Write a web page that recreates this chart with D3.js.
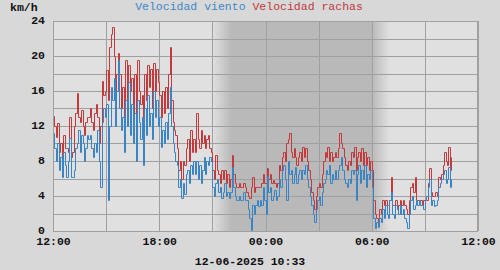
<!DOCTYPE html>
<html><head><meta charset="utf-8">
<script src="https://cdn.jsdelivr.net/npm/d3@7"></script>
<style>
html,body{margin:0;padding:0;background:#d8d8d8;}
svg{display:block;}
text{font-family:"Liberation Mono","DejaVu Sans Mono",monospace;}
</style></head>
<body>
<svg id="chart" width="500" height="270"></svg>
<script>
// ---- data ----
const startTime = new Date(2025, 5, 11, 12, 0);
const endTime = new Date(2025, 5, 12, 12, 0);
const stepMinutes = 5;
const nightStart = new Date(2025, 5, 11, 21, 0);
const nightFull = new Date(2025, 5, 11, 22, 5);
const dawnStart = new Date(2025, 5, 12, 6, 0);
const dawnEnd = new Date(2025, 5, 12, 7, 0);
const yTicks = [0, 4, 8, 12, 16, 20, 24];
const xTickLabels = ["12:00", "18:00", "00:00", "06:00", "12:00"];
const seriesNames = ["Velocidad viento", "Velocidad rachas"];
const unitLabel = "km/h";
const footerLabel = "12-06-2025 10:33";

const viento = [
 11.2, 9.5, 8.0,10.0, 7.0, 8.5, 6.2, 9.0, 7.5, 6.2, 8.0,10.6,
  6.2, 6.2, 7.0, 9.5,10.0,11.5, 9.0,11.0,10.0, 8.0, 9.5,11.0,
 10.5,11.0, 9.5, 8.5,10.0, 9.0,11.5, 8.0, 5.0,12.5,14.0,13.0,
 14.5, 3.5,12.0,16.5,15.0,17.5,12.0,16.0,19.5,14.0,11.5,13.0,
  9.0,15.0,12.0,17.0,11.0,14.5,10.0,13.5, 8.0,15.0,12.5,10.5,
 13.0, 7.5,14.0,11.0,15.5,12.0,13.5,10.5,16.0,13.0,15.0,12.0,
 13.0, 9.6,11.5,10.0,12.5,10.5,13.5,16.5,12.0,10.0, 9.0, 8.0,
  7.5, 5.0, 6.0, 3.8, 5.5, 4.2, 6.5, 7.0, 5.5, 7.5, 6.5, 8.0,
  6.5, 8.0, 6.0, 7.5, 5.5, 7.0, 8.5, 6.5, 8.0, 7.5, 8.5, 8.0,
  5.0, 4.0, 5.5, 6.0, 4.5, 5.0, 3.8, 4.5, 5.5, 4.0, 4.5, 3.8,
  4.5, 7.3, 5.0, 4.0, 3.5, 3.5, 4.0, 3.5, 3.5, 4.5, 3.5, 3.5,
  2.5, 1.5, 0.1, 3.0, 2.0, 3.0, 3.5, 2.8, 3.5, 3.0, 5.0, 3.5,
  2.0, 6.3, 4.5, 5.0, 3.5, 4.0, 4.7, 3.5, 4.0, 6.0, 5.0, 7.0,
  7.5, 6.0, 3.5, 8.0, 6.5, 7.0, 5.5, 6.5, 7.3, 5.5, 6.5, 7.0,
  6.0, 7.0, 6.5, 7.5, 6.0, 5.0, 4.0, 3.0, 2.0, 1.0, 2.5, 3.5,
  4.0, 3.0, 4.5, 5.5, 6.0, 7.0, 6.5, 7.5, 5.5, 6.5, 6.0, 7.0,
  6.0, 7.0, 7.5, 8.5, 7.0, 6.0, 5.5, 5.0, 6.0, 5.5, 7.0, 6.5,
  7.0, 3.5, 6.5, 7.5, 5.5, 7.0, 6.0, 7.5, 5.0, 6.5, 6.0, 7.0,
  5.0, 1.5, 0.3, 1.0, 0.5, 1.5, 1.0, 2.5, 1.5, 3.0, 2.0, 1.5,
  3.5, 4.5, 2.0, 1.5, 3.0, 2.5, 2.0, 3.0, 2.0, 2.5, 1.5, 1.0,
  0.3, 2.0, 3.5, 4.0, 2.5, 3.0, 3.5, 3.0, 3.5, 3.0, 3.0, 2.5,
  3.5, 4.0, 5.0, 6.0, 3.0, 3.5, 2.8, 3.0, 3.5, 5.0, 5.5, 6.0,
  6.5, 7.0, 5.5, 6.0, 7.3, 5.0, 6.0
];
const rachas = [
 13.2,12.0,10.8,12.3, 9.0,10.0, 8.5,11.0, 9.5, 9.5, 9.0,13.0,
  8.5, 9.0,12.0,13.5,15.8,13.0,12.5,13.8,12.0,11.0,12.5,13.0,
 13.0,14.0,12.5,11.5,13.5,14.5,13.0,10.0,12.0,17.2,15.5,16.0,
 18.4,15.0,21.0,22.5,23.3,20.0,13.0,18.0,20.3,18.0,14.0,16.5,
 12.0,19.5,15.0,19.0,16.0,17.5,13.0,18.0,12.0,19.5,16.0,14.5,
 15.5,12.5,18.0,15.0,19.0,16.5,18.5,14.0,19.2,16.0,18.5,17.0,
 15.5,13.0,16.0,13.5,16.5,14.0,18.0,21.0,15.0,12.5,11.5,11.0,
  9.5, 7.0, 8.0, 6.0, 8.0, 7.5, 9.5,10.5, 8.0,11.5, 9.0,10.5,
  9.0,13.5,10.5, 9.5,11.5,10.0,11.0, 9.5,10.5,11.0, 9.5, 9.0,
  7.0, 6.0, 8.7, 7.0, 6.5, 5.5, 7.0, 6.0, 7.0, 5.5, 6.5, 5.0,
  6.0, 8.7, 6.5, 5.5, 5.0, 5.0, 5.5, 5.0, 5.0, 5.5, 5.0, 4.5,
  4.0, 3.8, 5.0, 6.2, 4.5, 5.0, 5.0, 5.0, 5.0, 5.5, 6.5, 5.5,
  5.5, 7.2, 6.0, 6.5, 5.5, 5.8, 5.5, 5.0, 5.5, 7.5, 7.0, 8.5,
  9.0, 8.0,10.0,10.5,11.2, 9.0, 8.5, 9.5, 8.5, 7.5, 8.5, 9.0,
  8.0, 9.6, 8.5, 9.5, 8.0, 7.0, 6.0, 4.5, 3.5, 2.5, 4.0, 5.0,
  5.5, 5.0, 6.5, 8.0, 9.0, 8.5, 9.6, 8.0, 9.0, 8.0, 8.5, 9.0,
  8.5, 9.5,11.2,10.0, 9.5, 8.5, 7.5, 7.0, 8.0, 7.5, 9.0, 8.5,
  9.6, 7.0, 8.5, 9.0, 8.0, 9.5, 7.5, 9.0, 7.5, 8.5, 7.0, 8.0,
  7.0, 3.5, 2.0, 1.5, 1.0, 2.5, 2.0, 3.5, 3.0, 3.5, 3.0, 3.0,
  3.5, 6.2, 3.0, 3.0, 3.5, 2.5, 3.0, 3.5, 3.0, 3.5, 3.0, 2.5,
  2.0, 3.5, 5.0, 5.5, 4.5, 6.2, 3.5, 3.5, 3.5, 3.5, 3.0, 3.5,
  3.5, 3.5, 5.5, 7.2, 4.5, 4.0, 4.0, 4.5, 4.0, 6.2, 6.0, 6.5,
  7.5, 9.0, 8.0, 7.5, 9.6, 7.0, 8.5
];

// ---- layout ----
const svg = d3.select("#chart");
const pL = 53, pR = 478, pT = 21, pB = 231;
const x = d3.scaleTime().domain([startTime, endTime]).range([pL, pR]);
const y = d3.scaleLinear().domain([0, 24]).range([pB, pT]);
const t = i => new Date(startTime.getTime() + i * stepMinutes * 60000);
const crisp = v => Math.round(v) + 0.5;

const light = "#e0e0e0", dark = "#b9b9b9", grid = "#a0a0a0";
const blue = "#3b84c4", red = "#c23a3c";

// background
svg.append("rect").attr("x", pL).attr("y", pT).attr("width", pR - pL).attr("height", pB - pT).attr("fill", light);

// night shading
const defs = svg.append("defs");
const nx0 = x(nightStart), nx1 = x(dawnEnd);
const g = defs.append("linearGradient").attr("id", "night").attr("gradientUnits", "userSpaceOnUse")
  .attr("x1", nx0).attr("x2", nx1).attr("y1", 0).attr("y2", 0);
const off = d => (x(d) - nx0) / (nx1 - nx0);
g.append("stop").attr("offset", 0).attr("stop-color", light);
g.append("stop").attr("offset", off(nightFull)).attr("stop-color", dark);
g.append("stop").attr("offset", off(dawnStart)).attr("stop-color", dark);
g.append("stop").attr("offset", 1).attr("stop-color", light);
svg.append("rect").attr("x", nx0).attr("y", pT).attr("width", nx1 - nx0).attr("height", pB - pT).attr("fill", "url(#night)");

// grid
const gridY = d3.range(0, 25, 2);
svg.append("g").selectAll("line").data(gridY).join("line")
  .attr("x1", pL).attr("x2", pR)
  .attr("y1", d => crisp(y(d))).attr("y2", d => crisp(y(d)))
  .attr("stroke", grid).attr("stroke-width", 1);
const gridX = d3.timeHour.every(3).range(startTime, d3.timeMinute.offset(endTime, 1));
svg.append("g").selectAll("line").data(gridX).join("line")
  .attr("x1", d => crisp(x(d))).attr("x2", d => crisp(x(d)))
  .attr("y1", pT).attr("y2", pB)
  .attr("stroke", grid).attr("stroke-width", 1);

// series
const line = d3.line().x((d, i) => crisp(x(t(i)))).y(d => crisp(y(d))).curve(d3.curveStepAfter);
svg.append("path").datum(rachas).attr("d", line).attr("fill", "none").attr("stroke", red).attr("stroke-width", 1);
svg.append("path").datum(viento).attr("d", line).attr("fill", "none").attr("stroke", blue).attr("stroke-width", 1);

// frame
svg.append("rect").attr("x", pL + 0.5).attr("y", pT + 0.5).attr("width", pR - pL - 1).attr("height", pB - pT)
  .attr("fill", "none").attr("stroke", grid).attr("stroke-width", 1);

// axes labels
const yAxis = d3.axisLeft(y).tickValues(yTicks).tickSize(0).tickPadding(0).tickFormat(d3.format("d"));
const ya = svg.append("g").attr("transform", `translate(${pL - 8},-1)`).call(yAxis);
ya.select(".domain").remove();
ya.selectAll("text").attr("font-family", "Liberation Mono, monospace").attr("font-size", 11.5)
  .attr("font-weight", "bold").attr("fill", "#111");

const xTickDates = d3.timeHour.every(6).range(startTime, d3.timeMinute.offset(endTime, 1));
const xAxis = d3.axisBottom(x).tickValues(xTickDates).tickSize(0).tickPadding(0)
  .tickFormat((d, i) => xTickLabels[i]);
const xa = svg.append("g").attr("transform", `translate(0,${pB + 6})`).call(xAxis);
xa.select(".domain").remove();
xa.selectAll("text").attr("font-family", "Liberation Mono, monospace").attr("font-size", 11.5)
  .attr("font-weight", "bold").attr("fill", "#111");

// unit label
svg.append("text").attr("x", 10).attr("y", 11).text(unitLabel)
  .attr("font-size", 11.5).attr("font-weight", "bold").attr("fill", "#111");

// title
const title = svg.append("text").attr("x", 249).attr("y", 10).attr("text-anchor", "middle").attr("font-size", 11.5);
title.append("tspan").attr("fill", "#3d87c8").text(seriesNames[0]);
title.append("tspan").attr("fill", "#c03a3c").text(" " + seriesNames[1]);

// footer
svg.append("text").attr("x", 250).attr("y", 265).attr("text-anchor", "middle")
  .attr("font-size", 11.5).attr("font-weight", "bold").attr("fill", "#111").text(footerLabel);
</script>
</body></html>
